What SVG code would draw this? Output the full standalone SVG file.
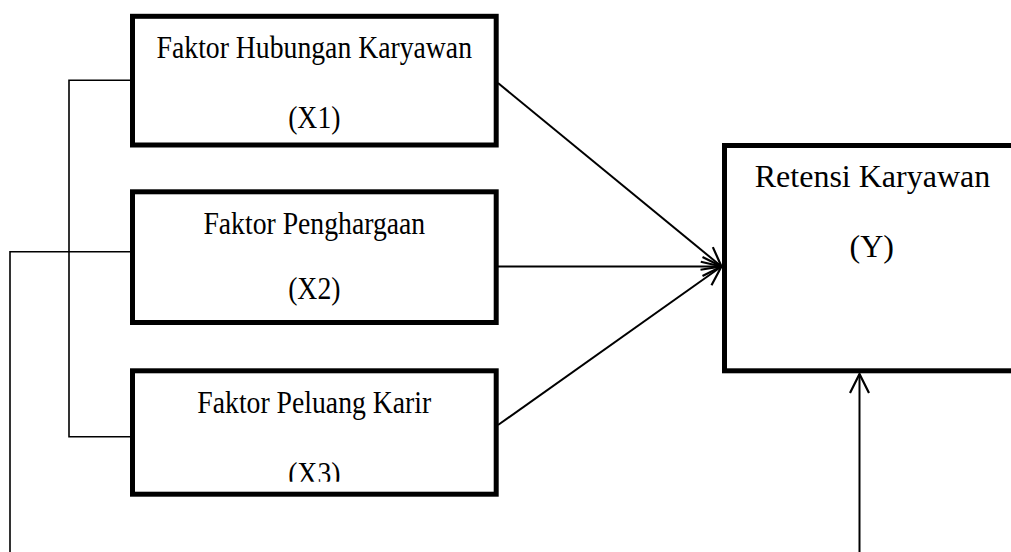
<svg xmlns="http://www.w3.org/2000/svg" width="1011" height="552" viewBox="0 0 1011 552">
  <style>
    .box { fill: #ffffff; stroke: #000000; stroke-width: 5; }
    .lbl { font-family: "Liberation Serif", "Times New Roman", serif; font-size: 32px; fill: #000000; text-anchor: middle; }
    .conn { fill: none; stroke: #000000; stroke-width: 1.6; }
    .arr { fill: none; stroke: #000000; stroke-width: 2; }
  </style>
  <defs>
    <marker id="open" markerUnits="userSpaceOnUse" viewBox="-30 -15 40 30" refX="0" refY="0" markerWidth="40" markerHeight="30" orient="auto" overflow="visible">
      <path d="M-19,-9.5 L0,0 L-19,9.5" fill="none" stroke="#000000" stroke-width="2.2"/>
    </marker>
    <clipPath id="clipX3">
      <rect x="0" y="0" width="1011" height="481.7"/>
    </clipPath>
  </defs>
  <rect x="0" y="0" width="1011" height="552" fill="#ffffff"/>

  <g id="connectors">
    <polyline class="conn" points="130,80.3 69,80.3 69,436.7 130,436.7"/>
    <polyline class="conn" points="130,251.7 10,251.7 10,560"/>
    <line class="arr" x1="498" y1="83" x2="721.5" y2="266.5" marker-end="url(#open)"/>
    <line class="arr" x1="498" y1="266.5" x2="721.5" y2="266.5" marker-end="url(#open)"/>
    <line class="arr" x1="498" y1="425" x2="721.5" y2="266.5" marker-end="url(#open)"/>
    <line class="arr" x1="859.5" y1="560" x2="859.5" y2="374" marker-end="url(#open)"/>
  </g>

  <g id="node-x1">
    <rect class="box" x="132.5" y="16.3" width="363.7" height="128.7"/>
    <text class="lbl" transform="translate(314.3,58.3) scale(0.866,1)">Faktor Hubungan Karyawan</text>
    <text class="lbl" transform="translate(314.3,128) scale(0.866,1)">(X1)</text>
  </g>

  <g id="node-x2">
    <rect class="box" x="132.5" y="191.8" width="363.7" height="130.7"/>
    <text class="lbl" transform="translate(314.3,234.3) scale(0.866,1)">Faktor Penghargaan</text>
    <text class="lbl" transform="translate(314.3,299.3) scale(0.866,1)">(X2)</text>
  </g>

  <g id="node-x3">
    <rect class="box" x="132.5" y="370.8" width="363.7" height="123.4"/>
    <text class="lbl" transform="translate(314.3,413.3) scale(0.866,1)">Faktor Peluang Karir</text>
    <g clip-path="url(#clipX3)">
      <text class="lbl" transform="translate(314.3,484.3) scale(0.866,1)">(X3)</text>
    </g>
  </g>

  <g id="node-y">
    <rect class="box" x="724.5" y="145.5" width="296" height="225.3"/>
    <text class="lbl" x="872.5" y="187.3">Retensi Karyawan</text>
    <text class="lbl" x="871.7" y="256.7">(Y)</text>
  </g>
</svg>
